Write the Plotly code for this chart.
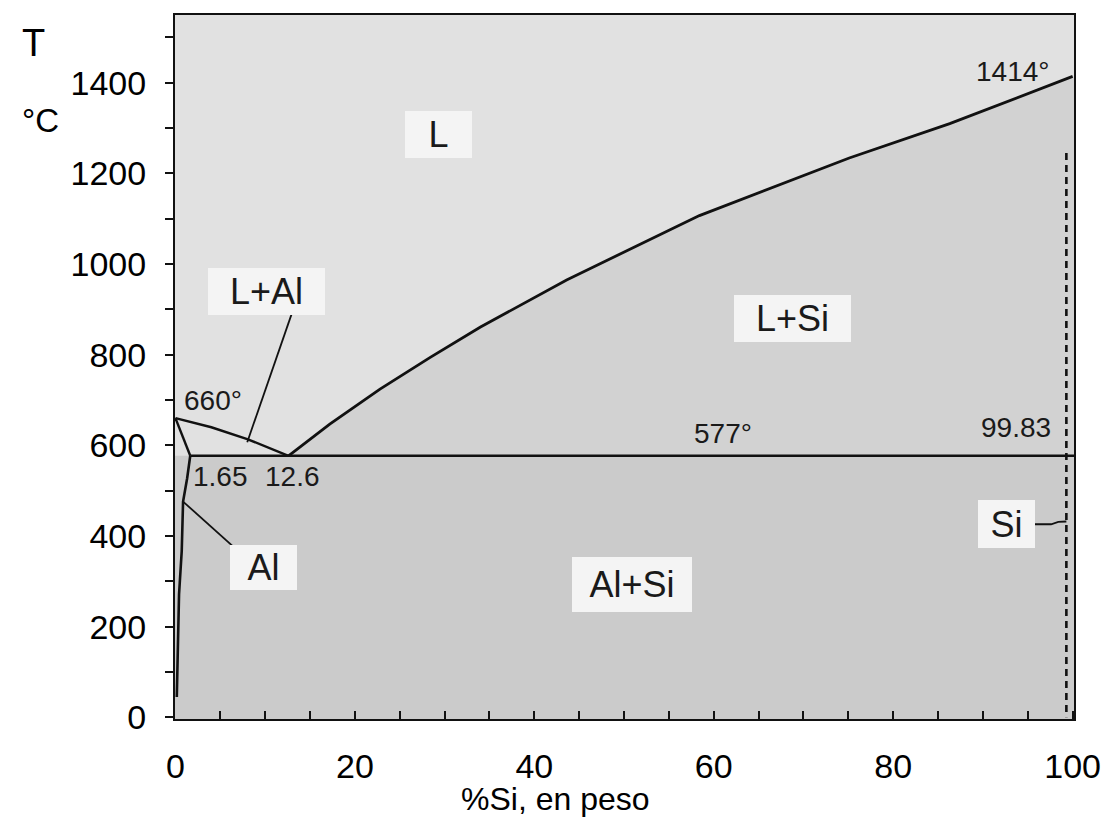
import plotly.graph_objects as go

# ---------------- data ----------------
liq_al_x = [0, 4, 8, 12.6]
liq_al_t = [660, 640, 614, 577]

liq_si_x = [12.6, 17.2, 22.8, 28.4, 34.0, 43.6, 58.4, 75.1, 86.3, 100]
liq_si_t = [577, 647, 724, 794, 861, 965, 1107, 1234, 1310, 1414]

sol_al_x = [0, 1.65]
sol_al_t = [660, 577]

solvus_al_x = [1.65, 1.3, 0.85, 0.7, 0.4, 0.2, 0.15]
solvus_al_t = [577, 527, 476, 367, 271, 100, 45]

eut_x = [1.65, 100.15]
eut_t = [577, 577]

si_solvus_x = [99.3, 99.3]
si_solvus_t = [1245, 0]

lead_lal_x = [8.0, 13.3]
lead_lal_t = [607, 910]
lead_al_x = [0.85, 7.5]
lead_al_t = [476, 358]
lead_si_x = [95.0, 97.6, 98.4, 99.3]
lead_si_t = [426, 426, 431, 432]

x_range = [-0.05, 100.15]
y_range = [-3.7, 1549.5]
x_ticks = [0, 20, 40, 60, 80, 100]
y_ticks = [0, 200, 400, 600, 800, 1000, 1200, 1400]

box_labels = ["L", "L+Al", "L+Si", "Al", "Al+Si", "Si"]
box_x = [29.3, 10.1, 68.8, 9.8, 50.9, 92.6]
box_t = [1285, 940, 880, 331, 294, 426]
box_w = [67, 117, 117, 67, 120, 57]
box_h = [47, 47, 47, 45, 55, 48]

val_labels = ["660°", "1.65", "12.6", "577°", "99.83", "1414°"]
val_x = [4.2, 5.0, 13.1, 61.0, 93.7, 93.3]
val_t = [700, 531, 531, 627, 640, 1424]

FONT = "Liberation Sans, Arial, sans-serif"
C_L = "#e1e1e1"
C_LSI = "#d2d2d2"
C_LOW = "#cbcbcb"

fig = go.Figure()

# region fills
fig.add_trace(go.Scatter(
    x=[x_range[0], x_range[1], x_range[1], x_range[0]],
    y=[y_range[0], y_range[0], 577, 577],
    fill="toself", fillcolor=C_LOW, line=dict(width=0), mode="lines",
    hoverinfo="skip", showlegend=False))
fig.add_trace(go.Scatter(
    x=liq_si_x + [x_range[1], x_range[1]],
    y=liq_si_t + [liq_si_t[-1], 577],
    fill="toself", fillcolor=C_LSI, line=dict(width=0), mode="lines",
    hoverinfo="skip", showlegend=False))

def line(xs, ys, width=2.2, dash="solid"):
    fig.add_trace(go.Scatter(x=xs, y=ys, mode="lines",
                             line=dict(color="#111111", width=width, dash=dash),
                             hoverinfo="skip", showlegend=False))

line(liq_al_x, liq_al_t, 2.4)
line(liq_si_x, liq_si_t, 2.8)
line(sol_al_x, sol_al_t, 2.4)
line(solvus_al_x, solvus_al_t, 2.6)
line(eut_x, eut_t, 2.4)
line(si_solvus_x, si_solvus_t, 2.6, "7px,5px")
line(lead_lal_x, lead_lal_t, 1.8)
line(lead_al_x, lead_al_t, 1.8)
line(lead_si_x, lead_si_t, 1.8)

annotations = []
for lab, x, t, w, h in zip(box_labels, box_x, box_t, box_w, box_h):
    annotations.append(dict(x=x, y=t, xref="x", yref="y", text=lab, showarrow=False,
                            font=dict(family=FONT, size=36, color="#1a1a1a"),
                            bgcolor="#f4f4f4", width=w, height=h, borderpad=0,
                            borderwidth=0, xanchor="center", yanchor="middle"))
for lab, x, t in zip(val_labels, val_x, val_t):
    annotations.append(dict(x=x, y=t, xref="x", yref="y", text=lab, showarrow=False,
                            font=dict(family=FONT, size=28, color="#1a1a1a"),
                            xanchor="center", yanchor="middle"))

# page has an 8px body margin: shrink the figure so the plot lands where it should
OFF = 8
W, H = 1109 - OFF, 818 - OFF
L, R, T, B = 175 - OFF, 34.5, 12.7 - OFF, 99
pw, ph = W - L - R, H - T - B
def px2paper(px, py):
    px -= OFF
    py -= OFF
    return (px - L) / pw, 1 - (py - T) / ph

for txt, (px, py), size in [("T", (33, 41), 38), ("°C", (40, 119), 33),
                            ("%Si, en peso", (556, 799), 32)]:
    xp, yp = px2paper(px, py)
    annotations.append(dict(x=xp, y=yp, xref="paper", yref="paper", text=txt,
                            showarrow=False, font=dict(family=FONT, size=size, color="black"),
                            xanchor="center", yanchor="middle"))

fig.update_layout(
    width=W, height=H, autosize=False,
    margin=dict(l=L, r=R, t=T, b=B, pad=0),
    paper_bgcolor="white", plot_bgcolor=C_L,
    annotations=annotations,
    font=dict(family=FONT, size=34, color="black"),
)
fig.update_xaxes(
    range=x_range, tickvals=x_ticks, ticktext=[str(v) for v in x_ticks],
    ticks="inside", ticklen=8, tickwidth=2, tickcolor="#111111",
    minor=dict(dtick=5, tick0=0, ticks="inside", ticklen=8, tickwidth=2, tickcolor="#111111", showgrid=False),
    showline=True, linecolor="#111111", linewidth=2, mirror=True,
    showgrid=False, zeroline=False, ticklabelstandoff=16,
    tickfont=dict(family=FONT, size=34, color="black"))
fig.update_yaxes(
    range=y_range, tickvals=y_ticks, ticktext=[str(v) for v in y_ticks],
    ticks="outside", ticklen=8, tickwidth=2, tickcolor="#111111",
    minor=dict(dtick=100, tick0=0, ticks="outside", ticklen=8, tickwidth=2, tickcolor="#111111", showgrid=False),
    showline=True, linecolor="#111111", linewidth=2, mirror=True,
    showgrid=False, zeroline=False, ticklabelstandoff=12,
    tickfont=dict(family=FONT, size=34, color="black"))

fig.write_html("out.html")
